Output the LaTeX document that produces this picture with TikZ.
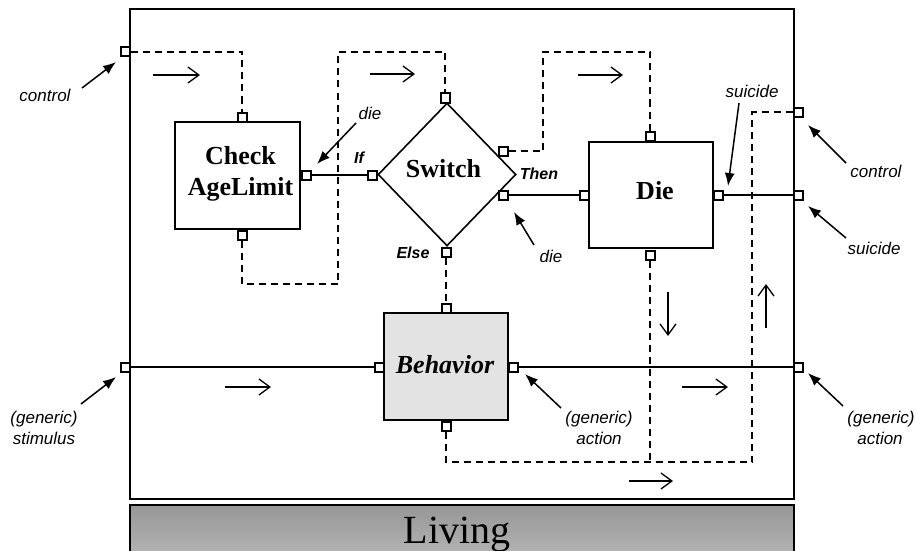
\documentclass[tikz,border=0pt]{standalone}
\usepackage{fontspec}
\setmainfont{Liberation Serif}
\setsansfont{Liberation Sans}
\usetikzlibrary{arrows.meta,shapes.geometric}

\tikzset{
  frm/.style={draw, line width=2pt, inner sep=0pt, anchor=north west},
  blk/.style={draw, line width=1.6pt, inner sep=0pt, fill=white},
  port/.style={draw, fill=white, line width=2pt, minimum size=9pt, inner sep=0pt},
  sig/.style={line width=1.4pt},
  ctl/.style={line width=1.5pt, dash pattern=on 7pt off 5pt},
  flow/.style={line width=1.3pt, -{Straight Barb[length=11pt,width=16pt,line width=1.3pt]}},
  ann/.style={line width=1.5pt, -{Latex[length=13pt,width=10pt]}},
  lbl/.style={font=\sffamily\itshape\fontsize{17}{20}\selectfont, inner sep=0pt, anchor=base},
  plbl/.style={font=\sffamily\bfseries\itshape\fontsize{16}{20}\selectfont, inner sep=0pt, anchor=base},
  ttl/.style={font=\bfseries\fontsize{26}{31}\selectfont, inner sep=0pt, anchor=base},
}

\begin{document}
\begin{tikzpicture}[x=1pt,y=-1pt]
\useasboundingbox (0,0) rectangle (916,551);

% outer component and its name plate
\node[frm, minimum width=664pt, minimum height=490pt] (frame) at (129,8) {};
\node[frm, top color=gray!82, bottom color=gray!55, minimum width=664pt, minimum height=60pt] (plate) at (129,504) {};
\node[font=\fontsize{40}{44}\selectfont, inner sep=0pt, anchor=base] (plateTxt) at (457,543) {Living};

% inner blocks
\node[blk, minimum width=125pt, minimum height=107pt] (check) at (237.5,175.5) {};
\node[blk, shape=diamond, minimum width=138pt, minimum height=143pt] (switch) at (447,174.5) {};
\node[blk, minimum width=124pt, minimum height=106pt] (die) at (651,195) {};
\node[blk, fill=black!11, minimum width=124pt, minimum height=107pt] (behav) at (446,366.5) {};

\node[ttl] (checkTxt) at (240.5,164) {Check};
\node[ttl] (checkTxt2) at (240.5,195) {AgeLimit};
\node[ttl] (switchTxt) at (443.5,177) {Switch};
\node[ttl] (dieTxt) at (655,199) {Die};
\node[ttl, font=\bfseries\itshape\fontsize{26}{31}\selectfont] (behavTxt) at (445,373) {Behavior};

% boundary ports
\node[port] (pCtlL) at (125,52) {};
\node[port] (pStimL) at (125,367) {};
\node[port] (pCtlR) at (798,112) {};
\node[port] (pSuiR) at (798,195) {};
\node[port] (pActR) at (798,367) {};

% block ports
\node[port] (ckT) at (242,117) {};
\node[port] (ckB) at (242,235) {};
\node[port] (ckR) at (306.5,175) {};
\node[port] (swT) at (445,98) {};
\node[port] (swL) at (372,175) {};
\node[port] (swUR) at (503,151) {};
\node[port] (swLR) at (503,195) {};
\node[port] (swB) at (446,252) {};
\node[port] (dieT) at (650,136) {};
\node[port] (dieL) at (584,195) {};
\node[port] (dieR) at (718,195) {};
\node[port] (dieB) at (650,255) {};
\node[port] (bhT) at (446,308) {};
\node[port] (bhL) at (379,367) {};
\node[port] (bhR) at (513,367) {};
\node[port] (bhB) at (446,426) {};

% control flow
\draw[ctl] (pCtlL.east) -| (ckT.north);
\draw[ctl] (ckB.south) |- (338,284) -- (338,52) -| (swT.north);
\draw[ctl] (swUR.east) -| (543,52) -| (dieT.north);
\draw[ctl] (swB.south) -- (bhT.north);
\draw[ctl] (dieB.south) -- (650,462);
\draw[ctl] (bhB.south) |- (752,462) |- (pCtlR.west);

% signal flow
\draw[sig] (ckR.east) -- (swL.west);
\draw[sig] (swLR.east) -- (dieL.west);
\draw[sig] (dieR.east) -- (pSuiR.west);
\draw[sig] (pStimL.east) -- (bhL.west);
\draw[sig] (bhR.east) -- (pActR.west);

% direction marks
\draw[flow] (153,75) -- (200,75);
\draw[flow] (370,74) -- (415,74);
\draw[flow] (578,75) -- (623,75);
\draw[flow] (668,292) -- (668,336);
\draw[flow] (766,328) -- (766,284);
\draw[flow] (225,387) -- (271,387);
\draw[flow] (682,387) -- (728,387);
\draw[flow] (629,481) -- (673,481);

% port labels
\node[plbl] (ifTxt) at (359,163) {If};
\node[plbl] (elseTxt) at (413,258) {Else};
\node[plbl] (thenTxt) at (539,179) {Then};

\node[lbl] (ctlL) at (45,102) {control};
\node[lbl] (dieA) at (370,119) {die};
\node[lbl] (dieBl) at (551,262) {die};
\node[lbl] (suiA) at (752,97) {suicide};
\node[lbl] (ctlR) at (876,177) {control};
\node[lbl] (suiR) at (874,254) {suicide};
\node[lbl] (stimA) at (44,423) {(generic)};
\node[lbl] (stimB) at (44,444) {stimulus};
\node[lbl] (actA) at (599,423) {(generic)};
\node[lbl] (actB) at (599,444) {action};
\node[lbl] (actRA) at (881,423) {(generic)};
\node[lbl] (actRB) at (880,444) {action};

% pointers
\draw[ann] (82,88) -- (116,62);
\draw[ann] (356,123) -- (317,164);
\draw[ann] (534,245) -- (514,212);
\draw[ann] (739,103) -- (728,186);
\draw[ann] (846,163) -- (808,125);
\draw[ann] (846,238) -- (808,206);
\draw[ann] (81,404) -- (116,377);
\draw[ann] (561,408) -- (525,374);
\draw[ann] (843,406) -- (808,373);
\end{tikzpicture}
\end{document}
